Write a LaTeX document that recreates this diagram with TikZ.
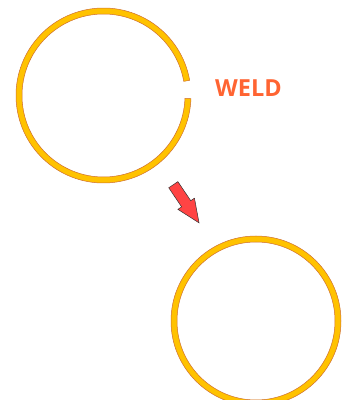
\documentclass[tikz,border=0pt]{standalone}
\usepackage{fontspec}
\setsansfont{Open Sans}
\usepackage{xcolor}
\usepackage{tikz}
\usetikzlibrary{positioning}
\definecolor{ringyellow}{RGB}{255,194,0}
\definecolor{ringedge}{RGB}{206,110,50}
\definecolor{weldorange}{RGB}{255,100,50}
\definecolor{arrowred}{RGB}{255,68,68}

\begin{document}
\begin{tikzpicture}[
    x=1pt, y=1pt,
    ring/.style={fill=ringyellow, draw=ringedge, line width=0.5pt, even odd rule},
    bigarrow/.style={fill=arrowred, draw=black!80, line width=0.5pt, line join=miter},
    label/.style={font=\sffamily\bfseries\fontsize{23.5}{26}\selectfont, text=weldorange, inner sep=0pt}]
    \clip (0,0) rectangle (351,400);
    \useasboundingbox (0,0) rectangle (351,400);
    \coordinate (open) at (103.5,304.5);
    \coordinate (closed) at (256,79);
    % ring with the gap
    \begin{scope}[shift={(open)}]
        \draw[ring] (10:87.5) arc[start angle=10, end angle=358, radius=87.5]
            -- (358:81.5) arc[start angle=358, end angle=10, radius=81.5] -- cycle;
    \end{scope}
    \node[label] (weld) at (248.5,312) {WELD};
    % arrow
    \begin{scope}[shift={(173.3,215.3)}, rotate=-56]
        \draw[bigarrow] (0,-5.5) -- (23,-5.5) -- (23,-10) -- (46,0) -- (23,10) -- (23,5.5) -- (0,5.5) -- cycle;
    \end{scope}
    % welded ring
    \draw[ring] (closed) circle[radius=85] (closed) circle[radius=79];
\end{tikzpicture}
\end{document}
